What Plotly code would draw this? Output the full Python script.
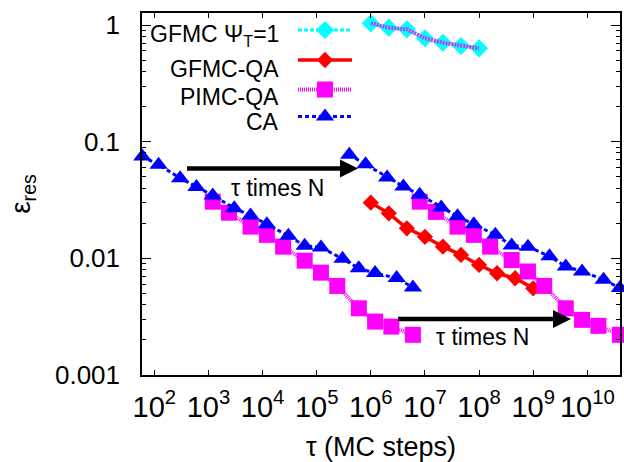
import plotly.graph_objects as go

# ---------------- data ----------------
series_names = ["GFMC Ψ<sub>T</sub>=1", "GFMC-QA", "PIMC-QA", "CA"]

gfmc_psi_tau = [1e6, 2.15e6, 4.64e6, 1e7, 2.15e7, 4.64e7, 1e8]
gfmc_psi_eps = [1.034, 0.948, 0.919, 0.770, 0.705, 0.661, 0.631]

gfmc_qa_tau = [1e6, 2.15e6, 4.64e6, 1e7, 2.15e7, 4.64e7, 1e8, 2.15e8, 4.64e8, 1e9]
gfmc_qa_eps = [0.0300, 0.0243, 0.0181, 0.0153, 0.0126, 0.0107, 0.00877, 0.00745, 0.00675, 0.00554]

pimc_tau_a = [1.2e3, 2.4e3, 6e3, 1.2e4, 2.4e4, 6e4, 1.2e5, 2.4e5, 6e5, 1.2e6, 2.4e6, 6e6]
pimc_eps_a = [0.0306, 0.0246, 0.0187, 0.0159, 0.0126, 0.00955, 0.00754, 0.0058, 0.00373, 0.00287, 0.0026, 0.00221]
pimc_tau_b = [8e6, 1.6e7, 4e7, 8e7, 1.6e8, 4e8, 8e8, 1.6e9, 4e9, 8e9, 1.6e10, 4e10]
pimc_eps_b = [0.0306, 0.0250, 0.0187, 0.0159, 0.0126, 0.00968, 0.00771, 0.0058, 0.00373, 0.00297, 0.00264, 0.00221]

ca_tau_a = [60, 120, 300, 600, 1.2e3, 3e3, 6e3, 1.2e4, 3e4, 6e4, 1.2e5, 3e5, 6e5, 1.2e6, 3e6, 6e6]
ca_eps_a = [0.0747, 0.0634, 0.0487, 0.0408, 0.0346, 0.0269, 0.0233, 0.0196, 0.0156, 0.0128, 0.0124,
            0.0099, 0.00824, 0.00747, 0.00677, 0.00563]
ca_tau_b = [4e5, 8e5, 2e6, 4e6, 8e6, 2e7, 4e7, 8e7, 2e8, 4e8, 8e8, 2e9, 4e9, 8e9, 2e10, 4e10]
ca_eps_b = [0.0772, 0.0641, 0.0493, 0.0413, 0.0351, 0.0273, 0.0229, 0.0196, 0.0159, 0.0129, 0.0126,
            0.0104, 0.00853, 0.00773, 0.00656, 0.00556]

x_tick_vals = [1e2, 1e3, 1e4, 1e5, 1e6, 1e7, 1e8, 1e9, 1e10]
x_tick_text = ["10<sup>%d</sup>" % k for k in range(2, 11)]
y_tick_vals = [0.001, 0.01, 0.1, 1]
y_tick_text = ["0.001", "0.01", "0.1", "1"]
y_minor_vals = [m * 10.0 ** e for e in range(-3, 1) for m in range(2, 10)]

arrow_label = "τ times N"

# ---------------- styles ----------------
FONT = "Liberation Sans, Arial, Helvetica, sans-serif"
CYAN, RED, MAGENTA, BLUE = "#00ffff", "#ff0000", "#ff00ff", "#0000ff"
styles = [
    dict(color=CYAN, symbol="diamond", size=14, dash="4px,2px", width=3),
    dict(color=RED, symbol="diamond", size=12.5, dash="solid", width=3.5),
    dict(color=MAGENTA, symbol="square", size=16, dash="1px,1px", width=4),
    dict(color=BLUE, symbol="triangle-up", size=16, dash="4px,3px", width=3),
]


def joined(xa, ya, xb, yb):
    return list(xa) + [None] + list(xb), list(ya) + [None] + list(yb)


fig = go.Figure()

data = [
    (gfmc_psi_tau, gfmc_psi_eps),
    (gfmc_qa_tau, gfmc_qa_eps),
    joined(pimc_tau_a, pimc_eps_a, pimc_tau_b, pimc_eps_b),
    joined(ca_tau_a, ca_eps_a, ca_tau_b, ca_eps_b),
]

for (xs, ys), st, name in zip(data, styles, series_names):
    fig.add_trace(go.Scatter(
        x=xs, y=ys, mode="lines+markers", name=name, showlegend=False,
        cliponaxis=False, connectgaps=False,
        line=dict(color=st["color"], width=st["width"], dash=st["dash"]),
        marker=dict(color=st["color"], symbol=st["symbol"], size=st["size"], line=dict(width=0)),
    ))
    if st["color"] == CYAN:
        # striped violet line drawn over the cyan diamonds
        fig.add_trace(go.Scatter(
            x=xs, y=ys, mode="lines", showlegend=False, cliponaxis=False,
            line=dict(color="#c040f0", width=4, dash="2px,1px"),
        ))

# ---------------- page geometry ----------------
FIG_W, FIG_H = 624, 462
# plot area in window pixels
PX_L, PX_R, PX_T, PX_B = 142, 620, 13, 375

leg_sample_y = [30, 60, 89.5, 116.5]
leg_text_y = [35, 68.5, 97, 122]
leg_text_x = 281
leg_line_x = [298, 352]
leg_mark_x = 325

for st, name, sy, ty in zip(styles, series_names, leg_sample_y, leg_text_y):
    fig.add_trace(go.Scatter(
        x=leg_line_x, y=[sy, sy], xaxis="x2", yaxis="y2", mode="lines",
        showlegend=False, cliponaxis=False, hoverinfo="skip",
        line=dict(color=st["color"], width=st["width"], dash=st["dash"]),
    ))
    fig.add_trace(go.Scatter(
        x=[leg_mark_x], y=[sy], xaxis="x2", yaxis="y2", mode="markers",
        showlegend=False, cliponaxis=False, hoverinfo="skip",
        marker=dict(color=st["color"], symbol=st["symbol"], size=st["size"], line=dict(width=0)),
    ))
    fig.add_annotation(x=leg_text_x, y=ty, xref="x2", yref="y2", text=name,
                       showarrow=False, xanchor="right", yanchor="middle",
                       font=dict(family=FONT, size=23, color="black"))

arrows = [
    dict(x0=187, x1=358, y=168.5, tx=277.5, ty=188),
    dict(x0=398, x1=571, y=319, tx=482.5, ty=337),
]
for a in arrows:
    fig.add_trace(go.Scatter(
        x=[a["x0"], a["x1"] - 12], y=[a["y"], a["y"]], xaxis="x2", yaxis="y2",
        mode="lines", showlegend=False, cliponaxis=False, hoverinfo="skip",
        line=dict(color="black", width=4.5),
    ))
    fig.add_trace(go.Scatter(
        x=[a["x1"]], y=[a["y"]], xaxis="x2", yaxis="y2", mode="markers",
        showlegend=False, cliponaxis=False, hoverinfo="skip",
        marker=dict(color="black", symbol="arrow-right", size=18, line=dict(width=0)),
    ))
    fig.add_annotation(x=a["tx"], y=a["ty"], xref="x2", yref="y2", text=arrow_label,
                       showarrow=False, xanchor="center", yanchor="middle",
                       font=dict(family=FONT, size=23, color="black"))

axis_common = dict(
    showline=True, linecolor="black", linewidth=1.5, mirror="ticks",
    ticks="inside", tickcolor="black", tickwidth=1.2,
    showgrid=False, zeroline=False,
)

fig.update_layout(
    width=FIG_W, height=FIG_H,
    margin=dict(l=PX_L, r=FIG_W - PX_R, t=PX_T, b=FIG_H - PX_B, autoexpand=False),
    paper_bgcolor="white", plot_bgcolor="white",
    showlegend=False,
    font=dict(family=FONT, size=26, color="black"),
    xaxis=dict(
        type="log", range=[1.7727, 10.604], tickmode="array",
        tickvals=x_tick_vals, ticktext=x_tick_text, ticklen=5,
        ticklabelstandoff=5,
        tickfont=dict(family=FONT, size=29, color="black"),
        title=dict(text="τ (MC steps)", font=dict(family=FONT, size=27), standoff=20),
        **axis_common,
    ),
    yaxis=dict(
        type="log", range=[-3, 0.103], tickmode="array",
        tickvals=y_tick_vals, ticktext=y_tick_text, ticklen=9,
        ticklabelstandoff=15,
        tickfont=dict(family=FONT, size=26, color="black"),
        minor=dict(tickmode="array", tickvals=y_minor_vals, ticks="inside", ticklen=4.5,
                   tickcolor="black", tickwidth=1.2),
        title=dict(text="ε<sub>res</sub>", font=dict(family=FONT, size=28), standoff=16),
        **axis_common,
    ),
    xaxis2=dict(overlaying="x", range=[PX_L, PX_R], visible=False, fixedrange=True),
    yaxis2=dict(overlaying="y", range=[PX_B, PX_T], visible=False, fixedrange=True),
)

fig.write_html(
    "out.html",
    config={"displayModeBar": False},
    post_script="document.body.style.margin='0';document.body.style.overflow='hidden';",
)
